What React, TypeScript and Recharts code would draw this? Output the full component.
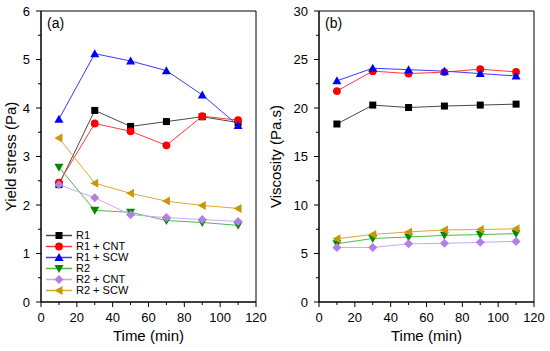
import { LineChart, Line, XAxis, YAxis, ReferenceArea } from "recharts";

const times = [10, 30, 50, 70, 90, 110];

// Yield stress (Pa)
const ysR1 = [2.42, 3.95, 3.62, 3.72, 3.82, 3.7];
const ysR1Cnt = [2.46, 3.68, 3.52, 3.23, 3.83, 3.75];
const ysR1Scw = [3.77, 5.12, 4.97, 4.77, 4.27, 3.64];
const ysR2 = [2.78, 1.89, 1.85, 1.68, 1.64, 1.58];
const ysR2Cnt = [2.42, 2.15, 1.8, 1.74, 1.7, 1.66];
const ysR2Scw = [3.38, 2.45, 2.24, 2.08, 1.99, 1.93];

// Viscosity (Pa.s)
const viR1 = [18.35, 20.3, 20.05, 20.2, 20.3, 20.4];
const viR1Cnt = [21.75, 23.8, 23.55, 23.7, 24.0, 23.72];
const viR1Scw = [22.8, 24.1, 23.95, 23.8, 23.55, 23.3];
const viR2 = [6.0, 6.55, 6.7, 6.87, 6.95, 7.05];
const viR2Cnt = [5.62, 5.62, 6.0, 6.05, 6.15, 6.25];
const viR2Scw = [6.52, 6.97, 7.22, 7.43, 7.47, 7.55];

const xTicks = [0, 10, 20, 30, 40, 50, 60, 70, 80, 90, 100, 110, 120];
const ysTicks = [0, 0.5, 1, 1.5, 2, 2.5, 3, 3.5, 4, 4.5, 5, 5.5, 6];
const viTicks = [0, 2.5, 5, 7.5, 10, 12.5, 15, 17.5, 20, 22.5, 25, 27.5, 30];

const series = [
  { key: "r1", name: "R1", shape: "square", line: "#4a4a4a", mark: "#000000" },
  { key: "r1cnt", name: "R1 + CNT", shape: "circle", line: "#ff3a3a", mark: "#ff0000" },
  { key: "r1scw", name: "R1 + SCW", shape: "up", line: "#3a3aff", mark: "#0000ff" },
  { key: "r2", name: "R2", shape: "down", line: "#4cba4c", mark: "#008a00" },
  { key: "r2cnt", name: "R2 + CNT", shape: "diamond", line: "#cfa6f5", mark: "#b27fe6" },
  { key: "r2scw", name: "R2 + SCW", shape: "left", line: "#dcaa2c", mark: "#c9960f" },
];

const yieldData = times.map((t, i) => ({
  t,
  r1: ysR1[i],
  r1cnt: ysR1Cnt[i],
  r1scw: ysR1Scw[i],
  r2: ysR2[i],
  r2cnt: ysR2Cnt[i],
  r2scw: ysR2Scw[i],
}));

const viscData = times.map((t, i) => ({
  t,
  r1: viR1[i],
  r1cnt: viR1Cnt[i],
  r1scw: viR1Scw[i],
  r2: viR2[i],
  r2cnt: viR2Cnt[i],
  r2scw: viR2Scw[i],
}));

const FONT = "'Liberation Sans', Arial, sans-serif";
const TICK_SIZE = 5;
const TICK_MARGIN = 6;

function Marker({ cx, cy, shape, fill }: { cx: number; cy: number; shape: string; fill: string }) {
  if (cx == null || cy == null) return null;
  if (shape === "square") return <rect x={cx - 3.5} y={cy - 3.5} width={7} height={7} fill={fill} />;
  if (shape === "circle") return <circle cx={cx} cy={cy} r={3.9} fill={fill} />;
  if (shape === "up")
    return <polygon points={`${cx},${cy - 4.5} ${cx + 4.5},${cy + 3.5} ${cx - 4.5},${cy + 3.5}`} fill={fill} />;
  if (shape === "down")
    return <polygon points={`${cx},${cy + 4.5} ${cx + 4.5},${cy - 3.5} ${cx - 4.5},${cy - 3.5}`} fill={fill} />;
  if (shape === "diamond")
    return <polygon points={`${cx},${cy - 4.5} ${cx + 4.5},${cy} ${cx},${cy + 4.5} ${cx - 4.5},${cy}`} fill={fill} />;
  return <polygon points={`${cx - 4.5},${cy} ${cx + 3.5},${cy - 4.5} ${cx + 3.5},${cy + 4.5}`} fill={fill} />;
}

function XTick(props: any) {
  const { x, y, payload } = props;
  const v = payload.value;
  const major = v % 20 === 0;
  const axisY = y - TICK_SIZE - TICK_MARGIN;
  return (
    <g>
      <line x1={x} x2={x} y1={axisY} y2={axisY + (major ? 5 : 3)} stroke="#000" />
      {major && (
        <text x={x} y={y} dy="0.71em" textAnchor="middle" fontSize={13} fill="#000" fontFamily={FONT}>
          {v}
        </text>
      )}
    </g>
  );
}

function makeYTick(step: number) {
  return function YTick(props: any) {
    const { x, y, payload } = props;
    const v = payload.value;
    const major = Math.abs(v / step - Math.round(v / step)) < 1e-6;
    const axisX = x + TICK_SIZE + TICK_MARGIN;
    return (
      <g>
        <line x1={axisX - (major ? 5 : 3)} x2={axisX} y1={y} y2={y} stroke="#000" />
        {major && (
          <text x={x} y={y} dy="0.355em" textAnchor="end" fontSize={13} fill="#000" fontFamily={FONT}>
            {v}
          </text>
        )}
      </g>
    );
  };
}

const YieldTick = makeYTick(1);
const ViscTick = makeYTick(5);

function LegendBox() {
  return (
    <div style={{ fontFamily: FONT, fontSize: 11, color: "#000", lineHeight: "11px" }}>
      {series.map((s) => (
        <div key={s.key} style={{ display: "flex", alignItems: "center", height: 11 }}>
          <svg width={27} height={11} style={{ display: "block" }}>
            <line x1={0} x2={26} y1={5.5} y2={5.5} stroke={s.line} strokeWidth={1.5} />
            <Marker cx={13} cy={5.5} shape={s.shape} fill={s.mark} />
          </svg>
          <span style={{ marginLeft: 3 }}>{s.name}</span>
        </div>
      ))}
    </div>
  );
}

function Panel({ data, width, yWidth, rightMargin, yMax, yTicks, Tick, yLabel, labelOffset }: any) {
  return (
    <LineChart
      width={width}
      height={351}
      data={data}
      margin={{ top: 11, right: rightMargin, left: 0, bottom: 0 }}
      style={{ fontFamily: FONT }}
    >
      <XAxis
        dataKey="t"
        type="number"
        domain={[0, 120]}
        ticks={xTicks}
        interval={0}
        height={49}
        tickSize={TICK_SIZE}
        tickMargin={TICK_MARGIN}
        tickLine={false}
        tick={<XTick />}
        axisLine={{ stroke: "#000" }}
        label={{ value: "Time (min)", position: "insideBottom", offset: 10, fontSize: 15, fill: "#000", fontFamily: FONT }}
      />
      <YAxis
        type="number"
        domain={[0, yMax]}
        ticks={yTicks}
        interval={0}
        width={yWidth}
        tickSize={TICK_SIZE}
        tickMargin={TICK_MARGIN}
        tickLine={false}
        tick={<Tick />}
        axisLine={{ stroke: "#000" }}
        label={{
          value: yLabel,
          angle: -90,
          position: "insideLeft",
          offset: labelOffset,
          fontSize: 15,
          fill: "#000",
          fontFamily: FONT,
          style: { textAnchor: "middle" },
        }}
      />
      <ReferenceArea x1={0} x2={120} y1={0} y2={yMax} fill="none" stroke="#000" strokeWidth={1} />
      {series.map((s) => (
        <Line
          key={s.key}
          dataKey={s.key}
          name={s.name}
          stroke={s.line}
          strokeWidth={1}
          isAnimationActive={false}
          dot={(p: any) => <Marker key={`${s.key}-${p.index}`} cx={p.cx} cy={p.cy} shape={s.shape} fill={s.mark} />}
          activeDot={false}
        />
      ))}
    </LineChart>
  );
}

export default function App() {
  return (
    <div
      style={{
        position: "absolute",
        left: 0,
        top: 0,
        width: 550,
        height: 351,
        background: "#fff",
        fontFamily: FONT,
      }}
    >
      <div style={{ position: "absolute", left: 0, top: 0 }}>
        <Panel
          data={yieldData}
          width={275}
          yWidth={41}
          rightMargin={19}
          yMax={6}
          yTicks={ysTicks}
          Tick={YieldTick}
          yLabel="Yield stress (Pa)"
          labelOffset={11}
        />
      </div>
      <div style={{ position: "absolute", left: 262, top: 0 }}>
        <Panel
          data={viscData}
          width={288}
          yWidth={57}
          rightMargin={16}
          yMax={30}
          yTicks={viTicks}
          Tick={ViscTick}
          yLabel="Viscosity (Pa.s)"
          labelOffset={14}
        />
      </div>
      <div style={{ position: "absolute", left: 46, top: 230 }}>
        <LegendBox />
      </div>
      <div style={{ position: "absolute", left: 47, top: 15, fontSize: 14, color: "#000" }}>(a)</div>
      <div style={{ position: "absolute", left: 325, top: 15, fontSize: 14, color: "#000" }}>(b)</div>
    </div>
  );
}
